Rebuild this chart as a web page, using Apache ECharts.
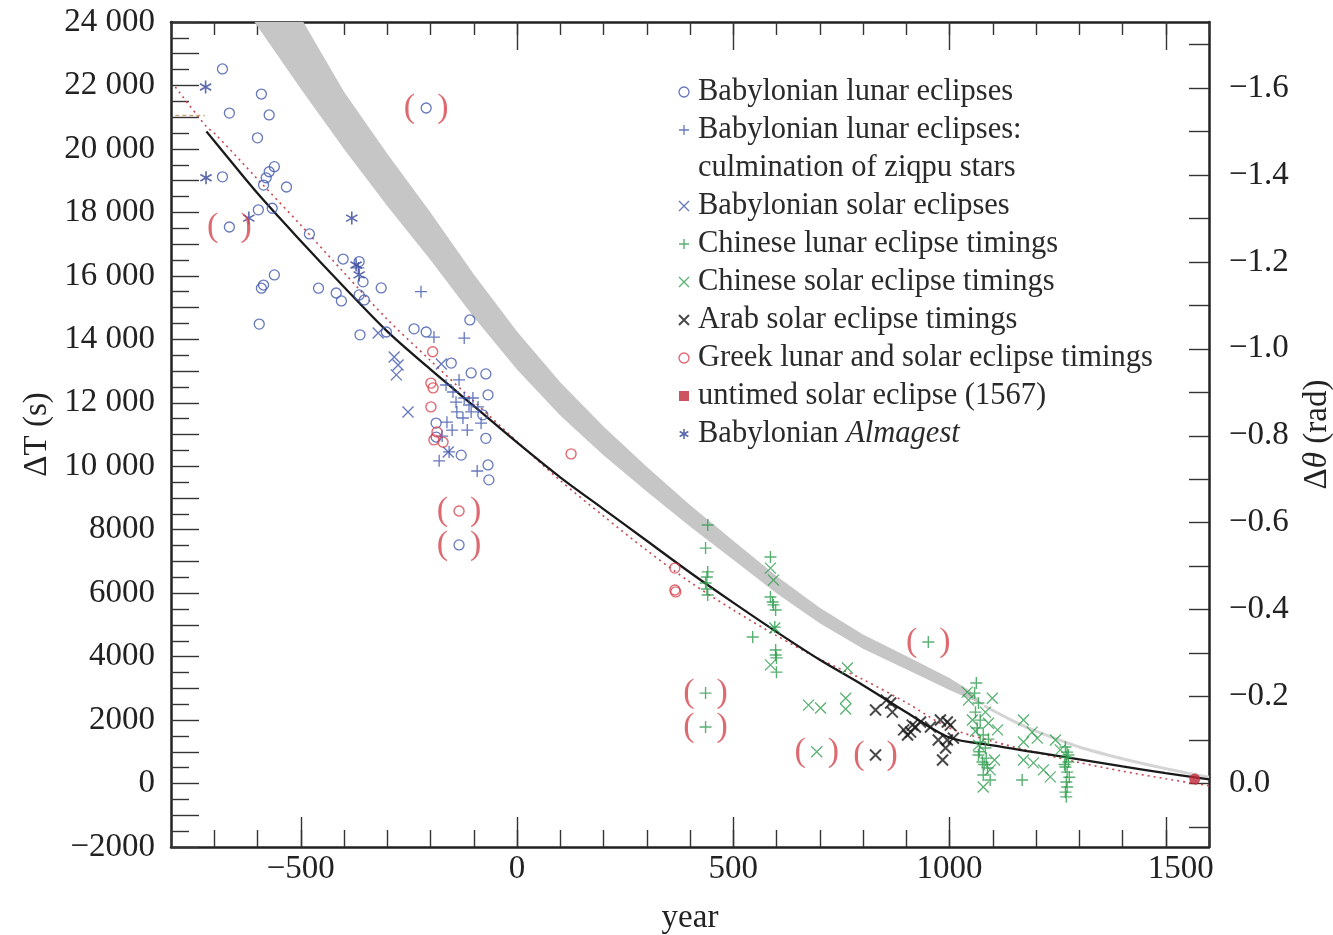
<!DOCTYPE html>
<html><head><meta charset="utf-8">
<script src="https://cdn.jsdelivr.net/npm/echarts@6/dist/echarts.min.js"></script>
<style>html,body{margin:0;padding:0;background:#fff}#c{width:1333px;height:935px}</style>
</head><body><div id="c"></div>
<script>
// ---------------- data (year, ΔT in seconds) ----------------
const xLabelTicks = [-500, 0, 500, 1000, 1500];
const yLabelTicks = [-2000, 0, 2000, 4000, 6000, 8000, 10000, 12000, 14000, 16000, 18000, 20000, 22000, 24000];
const radLabelTicks = [-1.6, -1.4, -1.2, -1.0, -0.8, -0.6, -0.4, -0.2, 0.0];
const radTicks = [-1.7, -1.6, -1.5, -1.4, -1.3, -1.2, -1.1, -1.0, -0.9, -0.8, -0.7, -0.6, -0.5, -0.4, -0.3, -0.2, -0.1, 0.0, 0.1];

const babLunar = [[-681,22520],[-591,21730],[-665,21130],[-573,21070],[-600,20350],[-681,19120],[-561,19440],[-573,19280],[-580,19090],[-586,18860],[-533,18800],[-598,18080],[-566,18130],[-480,17320],[-402,16530],[-365,16450],[-356,15810],[-314,15620],[-561,16030],[-586,15710],[-591,15610],[-459,15610],[-418,15460],[-406,15210],[-365,15400],[-353,15240],[-596,14480],[-363,14140],[-302,14230],[-238,14330],[-210,14230],[-109,14610],[-152,13250],[-106,12940],[-72,12910],[-67,12250],[-79,11620],[-187,11360],[-72,10880],[-129,10350],[-67,10040],[-65,9570],[-187,10920]];
const babLunarBr = [[-665,17540],[-210,21290],[-134,7520]];
const babZiqpu = [[-222,15500],[-122,14040],[-192,14070],[-164,12560],[-148,12340],[-134,12720],[-122,12150],[-111,11930],[-139,11710],[-125,11520],[-102,12150],[-90,11870],[-162,11390],[-150,11140],[-173,10950],[-106,11710],[-83,11360],[-180,10170],[-92,9850],[-157,10450],[-367,16250],[-115,11140],[-141,12020]];
const babSolar = [[-284,13440],[-275,13190],[-279,12880],[-252,11710],[-321,14200],[-175,13220],[-159,10450]];
const almagest = [[-720,21950],[-719,19090],[-620,17820],[-382,17820],[-372,16340],[-365,16030]];
const chLunar = [[441,8150],[436,7420],[441,6670],[439,6510],[436,6320],[439,6130],[441,5940],[586,7140],[586,5880],[591,5720],[593,5630],[598,5470],[596,4930],[545,4620],[598,4210],[598,4050],[600,3960],[600,3510],
  [1062,3170],[1058,2850],[1067,2540],[1060,2250],[1071,2000],[1064,1750],[1078,1530],[1071,1310],[1083,1120],[1067,900],[1076,680],[1088,490],[1078,270],[1094,110],[1085,800],[1090,1400],[1069,1000],[1080,600],
  [1168,110],
  [1268,1150],[1272,990],[1270,830],[1275,680],[1268,520],[1272,360],[1277,200],[1270,50],[1272,-110],[1268,-270],[1270,-420],[1275,900],[1266,600]];
const chLunarBr = [[436,2850],[436,1780],[951,4460]];
const chSolar = [[586,6790],[593,6410],[596,4900],[586,3740],[764,3640],[674,2470],[702,2380],[760,2690],[760,2350],[1041,2880],[1044,2630],[1099,2690],[1111,1690],[1078,-110],[1094,430],[1053,2000],[1083,2250],[1104,740],[1067,1210],[1171,2000],[1191,1620],[1203,1430],[1171,1310],[1245,1370],[1171,740],[1194,650],[1217,430],[1233,210],[1256,1060],[1060,1650],[1090,1900]];
const chSolarBr = [[693,1000]];
const arab = [[829,2320],[864,2540],[868,2250],[894,1690],[910,1620],[921,1780],[933,1940],[903,1530],[979,2000],[995,1940],[1002,1840],[974,1370],[995,1370],[1009,1430],[991,1120],[984,740],[956,1780],[914,1840],[854,2630]];
const arabBr = [[829,900]];
const greek = [[-195,13610],[-199,12620],[-194,12470],[-199,11870],[-192,10830],[-171,10760],[-185,11080],[125,10390],[365,6790],[365,6100],[367,6040]];
const greekBr = [[-134,8590]];
const untimed = [[1567,140]];

// fitted curves
const splineFit = [[-718,20550],[-700,20250],[-600,18600],[-500,17100],[-400,15650],[-300,14250],[-200,13050],[-100,11900],[0,10750],[100,9650],[200,8650],[300,7650],[400,6650],[500,5700],[600,4780],[700,3900],[800,3100],[900,2250],[1000,1450],[1100,1200],[1200,980],[1300,760],[1400,540],[1500,330],[1600,130]];
const dottedFit = [[-790,21950],[-718,20700],[-700,20500],[-600,19050],[-500,17600],[-400,16100],[-300,14630],[-200,13330],[-100,12050],[0,10780],[100,9550],[200,8430],[300,7350],[400,6350],[500,5470],[600,4660],[700,3920],[800,3280],[900,2550],[1000,1750],[1100,1330],[1200,980],[1300,660],[1400,390],[1500,150],[1600,-70]];
const tanMark = [[-790,21050],[-722,21050]];
// gray band: lower edge and upper edge
const bandLower = [[-607,24000],[-500,21900],[-400,20000],[-300,18200],[-200,16500],[-100,14700],[0,13050],[100,11600],[200,10350],[300,9200],[400,8100],[500,7050],[600,6000],[700,5050],[800,4250],[900,3600],[1000,2950],[1050,2650],[1080,2450]];
const bandUpper = [[-494,24000],[-400,21800],[-300,19850],[-200,18000],[-100,16050],[0,14250],[100,12650],[200,11250],[300,9980],[400,8780],[500,7650],[600,6540],[700,5540],[800,4700],[900,4020],[1000,3330],[1050,2900],[1080,2450]];
const bandTail = [[1080,2450],[1150,1950],[1200,1650],[1300,1150],[1400,780],[1500,470],[1600,200]];

// ---------------- styling ----------------
const FONT = 'Liberation Serif';
const X_MIN = -800, X_MAX = 1600, Y_MIN = -2000, Y_MAX = 24000, SEC_PER_RAD = 13700;
const BLUE = '#3e55ad', GREEN = '#2f9e4f', BLACK = '#1a1a1a', RED = '#d9434f', DARKRED = '#c0283a', PAREN = '#d4454d';
const TXT = '#222';
const PLUS = 'path://M0,-1L0,1M-1,0L1,0';
const CROSS = 'path://M-1,-1L1,1M-1,1L1,-1';
const STAR = 'path://M0,-1L0,1M-0.866,-0.5L0.866,0.5M-0.866,0.5L0.866,-0.5';
const SQUARE = 'path://M0,0L1,0L1,1L0,1Z';

const minus = s => s.replace('-', '\u2212');
const fmtDT = v => { const a = Math.abs(v); const s = a >= 10000 ? Math.floor(a/1000) + ' ' + String(a%1000).padStart(3,'0') : String(a); return (v < 0 ? '\u2212' : '') + s; };
const fmtYear = v => (v === X_LAST_LABEL ? '{s|' + v + '}' : minus(String(v)));
const X_LAST_LABEL = xLabelTicks[xLabelTicks.length - 1];
const fmtRad = v => (Math.abs(v) < 1e-9 ? '0.0' : minus(v.toFixed(1)));

const mk = (arr, br) => arr.map(v => v).concat((br || []).map(v => ({value: v, label: {show: true}})));
function scat(name, data, symbol, size, color, width, fill) {
  return {
    type: 'scatter', name, data, symbol, symbolSize: size, symbolKeepAspect: true,
    xAxisIndex: 0, yAxisIndex: 0, z: 4, silent: true,
    itemStyle: {color: fill || 'rgba(0,0,0,0)', borderColor: color, borderWidth: width},
    label: {show: false, position: 'inside', formatter: '{p|(}{g| }{p|)}',
      rich: {p: {fontFamily: FONT, fontSize: 34, color: PAREN}, g: {width: 22}}},
    emphasis: {disabled: true}
  };
}
const tickLine = {color: '#333', width: 1.4};
const axisLine = {show: true, onZero: false, lineStyle: {color: TXT, width: 2.5}};
const noLine = {show: false, onZero: false};
const gridRect = {left: 171, right: 124, top: 22, bottom: 88, containLabel: false, outerBoundsMode: 'none'};

const option = {
  animation: false,
  backgroundColor: '#fff',
  grid: [gridRect, Object.assign({}, gridRect)],
  xAxis: [
    {type: 'value', gridIndex: 0, position: 'bottom', min: X_MIN, max: X_MAX, interval: 100,
     axisLine, splitLine: {show: false},
     axisTick: {inside: true, length: 17, lineStyle: tickLine},
     axisLabel: {customValues: xLabelTicks, formatter: fmtYear, fontFamily: FONT, fontSize: 33, color: TXT, margin: 6,
       rich: {s: {fontFamily: FONT, fontSize: 33, color: TXT, padding: [0, 0, 0, 30]}}},
     name: 'year', nameLocation: 'middle', nameGap: 55, nameTextStyle: {fontFamily: FONT, fontSize: 33, color: TXT}},
    {type: 'value', gridIndex: 0, position: 'top', min: X_MIN, max: X_MAX, interval: 100,
     axisLine, splitLine: {show: false},
     axisTick: {inside: true, length: 13, lineStyle: tickLine}, axisLabel: {show: false}},
    {type: 'value', gridIndex: 1, position: 'bottom', min: X_MIN, max: X_MAX,
     axisLine: noLine, splitLine: {show: false},
     axisTick: {inside: true, length: 30, customValues: xLabelTicks, lineStyle: tickLine}, axisLabel: {show: false}},
    {type: 'value', gridIndex: 1, position: 'top', min: X_MIN, max: X_MAX,
     axisLine: noLine, splitLine: {show: false},
     axisTick: {inside: true, length: 28, customValues: xLabelTicks, lineStyle: tickLine}, axisLabel: {show: false}}
  ],
  yAxis: [
    {type: 'value', gridIndex: 0, position: 'left', min: Y_MIN, max: Y_MAX, interval: 1000,
     axisLine, splitLine: {show: false},
     axisTick: {inside: true, length: 28, lineStyle: tickLine},
     minorTick: {show: true, splitNumber: 2, length: 18, lineStyle: tickLine},
     axisLabel: {customValues: yLabelTicks, formatter: fmtDT, fontFamily: FONT, fontSize: 33, color: TXT, margin: 16},
     name: 'ΔT (s)', nameLocation: 'middle', nameRotate: 90, nameGap: 116,
     nameTextStyle: {fontFamily: FONT, fontSize: 33, color: TXT}},
    {type: 'value', gridIndex: 0, position: 'right', inverse: true,
     min: -Y_MAX / SEC_PER_RAD, max: -Y_MIN / SEC_PER_RAD,
     axisLine, splitLine: {show: false},
     axisTick: {inside: true, length: 20, customValues: radTicks, lineStyle: tickLine},
     axisLabel: {customValues: radLabelTicks, formatter: fmtRad, fontFamily: FONT, fontSize: 33, color: TXT, margin: 20},
     name: '{n|Δ}{t|θ}{n| (rad)}', nameLocation: 'middle', nameRotate: 90, nameGap: 92,
     nameTextStyle: {fontFamily: FONT, fontSize: 33, color: TXT,
       rich: {n: {fontFamily: FONT, fontSize: 33, color: TXT}, t: {fontFamily: FONT, fontSize: 33, color: TXT, fontStyle: 'italic'}}}},
    {type: 'value', gridIndex: 1, min: Y_MIN, max: Y_MAX, show: false, axisLine: noLine}
  ],
  legend: {
    orient: 'vertical', left: 673, top: 68, itemWidth: 10, itemHeight: 10, itemGap: 0,
    selectedMode: false,
    itemStyle: {borderWidth: 'inherit'},
    textStyle: {fontFamily: FONT, fontSize: 30.5, color: '#2a2a2a', lineHeight: 38, padding: [0, 0, 0, 4],
      rich: {i: {fontFamily: FONT, fontSize: 30.5, color: '#2a2a2a', lineHeight: 38, fontStyle: 'italic'}}},
    formatter: name => name === 'Babylonian Almagest' ? 'Babylonian {i|Almagest}' : name,
    data: [
      'Babylonian lunar eclipses',
      'Babylonian lunar eclipses:',
      {name: 'culmination of ziqpu stars', icon: 'none'},
      'Babylonian solar eclipses',
      'Chinese lunar eclipse timings',
      'Chinese solar eclipse timings',
      'Arab solar eclipse timings',
      'Greek lunar and solar eclipse timings',
      {name: 'untimed solar eclipse (1567)', icon: SQUARE},
      'Babylonian Almagest'
    ]
  },
  series: [
    {type: 'custom', name: 'band', xAxisIndex: 0, yAxisIndex: 0, z: 1, silent: true,
     data: [bandLower[0]],
     renderItem: (params, api) => {
       const pts = bandLower.map(p => api.coord(p)).concat(bandUpper.slice().reverse().map(p => api.coord(p)));
       return {type: 'polygon', shape: {points: pts}, style: {fill: '#c6c6c6'}};
     }},
    {type: 'line', name: 'bandTail', data: bandTail, xAxisIndex: 0, yAxisIndex: 0, z: 1, silent: true,
     symbol: 'none', smooth: 0.3, lineStyle: {color: '#d4d4d4', width: 3}},
    {type: 'line', name: 'dotted', data: dottedFit, xAxisIndex: 0, yAxisIndex: 0, z: 2, silent: true,
     symbol: 'none', smooth: 0.3, lineStyle: {color: '#c8474f', width: 1.6, type: [2, 4]}},
    {type: 'line', name: 'tan', data: tanMark, xAxisIndex: 0, yAxisIndex: 0, z: 2, silent: true,
     symbol: 'none', lineStyle: {color: '#c9a27a', width: 1.5, type: [4, 3]}},
    {type: 'line', name: 'spline', data: splineFit, xAxisIndex: 0, yAxisIndex: 0, z: 3, silent: true,
     symbol: 'none', smooth: 0.3, lineStyle: {color: BLACK, width: 2.3}},
    scat('Babylonian lunar eclipses', mk(babLunar, babLunarBr), 'circle', 10, BLUE, 1.3),
    scat('Babylonian lunar eclipses:', mk(babZiqpu), PLUS, 12, BLUE, 1.3),
    {type: 'scatter', name: 'culmination of ziqpu stars', data: [], xAxisIndex: 0, yAxisIndex: 0, symbol: 'none'},
    scat('Babylonian solar eclipses', mk(babSolar), CROSS, 11, BLUE, 1.3),
    scat('Chinese lunar eclipse timings', mk(chLunar, chLunarBr), PLUS, 12, GREEN, 1.4),
    scat('Chinese solar eclipse timings', mk(chSolar, chSolarBr), CROSS, 11, GREEN, 1.3),
    scat('Arab solar eclipse timings', mk(arab, arabBr), CROSS, 11, BLACK, 2),
    scat('Greek lunar and solar eclipse timings', mk(greek, greekBr), 'circle', 10, RED, 1.4),
    scat('untimed solar eclipse (1567)', mk(untimed), 'circle', 11, DARKRED, 0, DARKRED),
    scat('Babylonian Almagest', mk(almagest), STAR, 13, '#34449a', 1.6)
  ]
};
const chart = echarts.init(document.getElementById('c'), null, {renderer: 'canvas'});
chart.setOption(option);
</script>
</body></html>
